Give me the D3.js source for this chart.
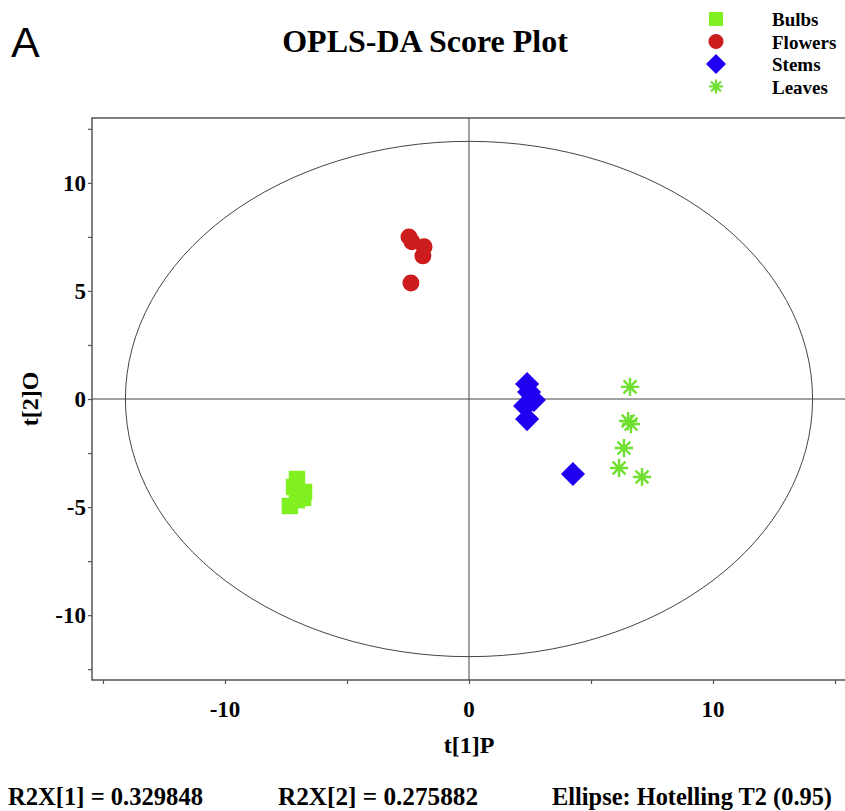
<!DOCTYPE html>
<html>
<head>
<meta charset="utf-8">
<script src="https://cdn.jsdelivr.net/npm/d3@7"></script>
<style>
  body { margin: 0; background: #fff; }
  svg { display: block; }
  text { font-family: "Liberation Serif", "Times New Roman", serif; font-weight: bold; fill: #000; }
</style>
</head>
<body>
<div id="chart"></div>
<script>
// score values: [t[1]P, t[2]O]
var bulbs   = [[-7.05, -3.7], [-7.17, -4.07], [-6.76, -4.3], [-6.8, -4.58], [-7.05, -4.68], [-7.34, -4.95]];
var flowers = [[-2.46, 7.5], [-2.34, 7.27], [-1.84, 7.04], [-1.89, 6.62], [-2.38, 5.37]];
var stems   = [[2.38, 0.69], [2.46, 0.32], [2.66, -0.05], [2.3, -0.32], [2.38, -0.93], [4.26, -3.47]];
var leaves  = [[6.6, 0.56], [6.52, -1.02], [6.64, -1.16], [6.35, -2.27], [6.15, -3.19], [7.09, -3.61]];

var groupNames = ["Bulbs", "Flowers", "Stems", "Leaves"];
var xTicks = [-15, -10, -5, 0, 5, 10, 15];
var xTickLabels = [-10, 0, 10];
var yTicks = [-12.5, -10, -7.5, -5, -2.5, 0, 2.5, 5, 7.5, 10, 12.5];
var yTickLabels = [-10, -5, 0, 5, 10];
var ellipseAxes = [14.08, 11.92]; // Hotelling T2 (0.95) semi-axes
var r2x = ["R2X[1] = 0.329848", "R2X[2] = 0.275882"];

var width = 845, height = 811;
var plot = {left: 92, right: 846, top: 118, bottom: 680};

var svg = d3.select("#chart").append("svg")
    .attr("width", width)
    .attr("height", height);

var x = d3.scaleLinear().domain([-15.45, 15.45]).range([plot.left, plot.right]);
var y = d3.scaleLinear().domain([-13, 13]).range([plot.bottom, plot.top]);

// 8-armed asterisk
var asterisk = {
  draw: function(ctx, size) {
    var r = Math.sqrt(size) / 2;
    for (var i = 0; i < 4; i++) {
      var a = i * Math.PI / 4;
      ctx.moveTo(-r * Math.cos(a), -r * Math.sin(a));
      ctx.lineTo(r * Math.cos(a), r * Math.sin(a));
    }
  }
};

var styles = {
  Bulbs:   {data: bulbs,   type: d3.symbolSquare, size: 270, legendSize: 196, rotate: 0,  fill: "#80f020", stroke: "none"},
  Flowers: {data: flowers, type: d3.symbolCircle, size: 225, legendSize: 180, rotate: 0,  fill: "#cc1c1c", stroke: "none"},
  Stems:   {data: stems,   type: d3.symbolSquare, size: 290, legendSize: 200, rotate: 45, fill: "#2000f0", stroke: "none"},
  Leaves:  {data: leaves,  type: asterisk,        size: 330, legendSize: 200, rotate: 0,  fill: "none",    stroke: "#70e030"}
};

// frame
svg.append("rect")
    .attr("x", plot.left).attr("y", plot.top)
    .attr("width", plot.right - plot.left).attr("height", plot.bottom - plot.top)
    .attr("fill", "none").attr("stroke", "#555").attr("stroke-width", 1.5);

// cross hairs
svg.append("line")
    .attr("x1", x(0)).attr("x2", x(0)).attr("y1", plot.top).attr("y2", plot.bottom)
    .attr("stroke", "#444").attr("stroke-width", 1);
svg.append("line")
    .attr("x1", plot.left).attr("x2", plot.right).attr("y1", y(0)).attr("y2", y(0))
    .attr("stroke", "#444").attr("stroke-width", 1);

// ellipse
svg.append("ellipse")
    .attr("cx", x(0)).attr("cy", y(0))
    .attr("rx", x(ellipseAxes[0]) - x(0))
    .attr("ry", y(0) - y(ellipseAxes[1]))
    .attr("fill", "none").attr("stroke", "#444").attr("stroke-width", 1);

// axes
var xAxis = svg.append("g")
    .attr("transform", "translate(0," + plot.bottom + ")")
    .call(d3.axisBottom(x).tickValues(xTicks).tickSize(4).tickFormat(""));
var yAxis = svg.append("g")
    .attr("transform", "translate(" + plot.left + ",0)")
    .call(d3.axisLeft(y).tickValues(yTicks).tickSize(4).tickFormat(""));
[xAxis, yAxis].forEach(function(a) {
  a.select(".domain").remove();
  a.selectAll("line").attr("stroke", "#555").attr("stroke-width", 1.2);
});

svg.append("g").selectAll("text")
  .data(xTickLabels).enter().append("text")
    .attr("x", function(d) { return x(d); })
    .attr("y", 717)
    .attr("text-anchor", "middle")
    .style("font-size", "23px")
    .text(function(d) { return d; });

svg.append("g").selectAll("text")
  .data(yTickLabels).enter().append("text")
    .attr("x", 86)
    .attr("y", function(d) { return y(d) + 8; })
    .attr("text-anchor", "end")
    .style("font-size", "23px")
    .text(function(d) { return d; });

// axis titles
svg.append("text")
    .attr("x", x(0)).attr("y", 753)
    .attr("text-anchor", "middle")
    .style("font-size", "24px")
    .text("t[1]P");
svg.append("text")
    .attr("transform", "translate(38," + y(0) + ") rotate(-90)")
    .attr("text-anchor", "middle")
    .style("font-size", "24px")
    .text("t[2]O");

// points
groupNames.forEach(function(name) {
  var s = styles[name];
  var sym = d3.symbol().type(s.type).size(s.size);
  svg.append("g").selectAll("path")
    .data(s.data).enter().append("path")
      .attr("d", sym)
      .attr("transform", function(d) { return "translate(" + x(d[0]) + "," + y(d[1]) + ") rotate(" + s.rotate + ")"; })
      .attr("fill", s.fill)
      .attr("stroke", s.stroke)
      .attr("stroke-width", 2.4);
});

// title and panel letter
svg.append("text")
    .attr("x", 425).attr("y", 52)
    .attr("text-anchor", "middle")
    .style("font-size", "32px")
    .text("OPLS-DA Score Plot");
svg.append("text")
    .attr("x", 11).attr("y", 57)
    .style("font-family", "'Liberation Sans', Arial, sans-serif")
    .style("font-weight", "normal")
    .style("font-size", "43px")
    .text("A");

// legend
var legend = svg.append("g").selectAll("g")
  .data(groupNames).enter().append("g")
    .attr("transform", function(d, i) { return "translate(716," + (19 + i * 22.5) + ")"; });
legend.append("path")
    .attr("d", function(d) { return d3.symbol().type(styles[d].type).size(styles[d].legendSize)(); })
    .attr("transform", function(d) { return "rotate(" + styles[d].rotate + ")"; })
    .attr("fill", function(d) { return styles[d].fill; })
    .attr("stroke", function(d) { return styles[d].stroke; })
    .attr("stroke-width", 2.2);
legend.append("text")
    .attr("x", 56).attr("y", 7)
    .style("font-size", "19px")
    .text(function(d) { return d; });

// footer
var footer = [
  {text: r2x[0], x: 8, len: 195},
  {text: r2x[1], x: 278, len: 200},
  {text: "Ellipse: Hotelling T2 (0.95)", x: 552, len: 280}
];
svg.append("g").selectAll("text")
  .data(footer).enter().append("text")
    .attr("x", function(d) { return d.x; })
    .attr("y", 805)
    .attr("textLength", function(d) { return d.len; })
    .attr("lengthAdjust", "spacingAndGlyphs")
    .style("font-size", "25px")
    .text(function(d) { return d.text; });
</script>
</body>
</html>
